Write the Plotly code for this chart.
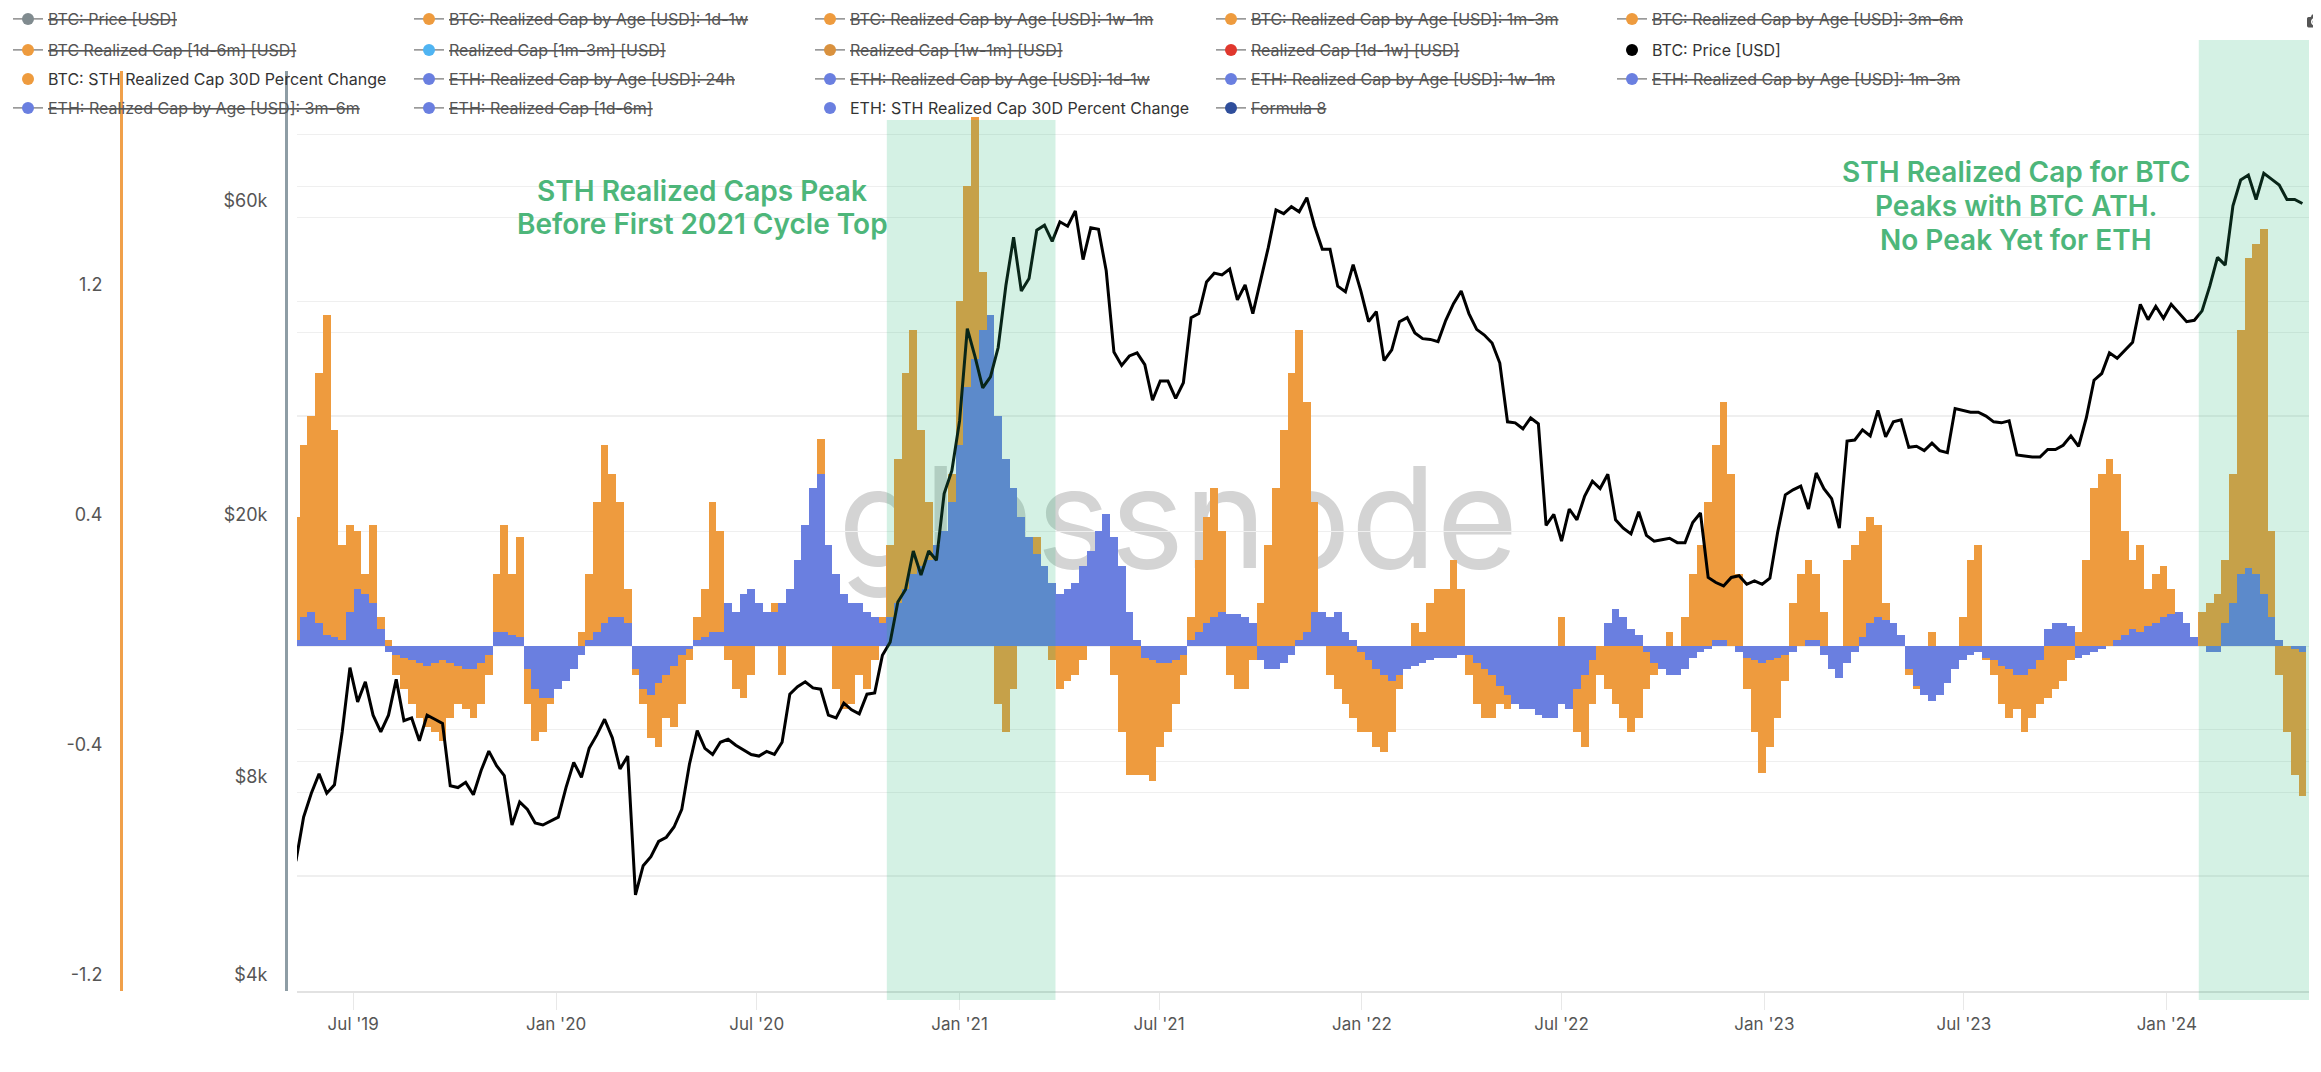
import math
import pandas as pd
import plotly.graph_objects as go

# weekly samples, first sample on 2019-05-10
first_week = "2019-05-10"

# BTC: Price [USD]
btc_price = [
    6300, 7350, 7990, 8550, 7990, 8230, 9900, 12400, 11000, 11800,
    10500, 9900, 10500, 11900, 10300, 10400, 9600, 10500, 10350, 10200,
    8200, 8150, 8300, 7950, 8650, 9260, 8800, 8500, 7150, 7750,
    7550, 7200, 7150, 7250, 7350, 8150, 8900, 8450, 9350, 9800,
    10350, 9700, 8700, 9100, 5600, 6200, 6400, 6750, 6850, 7100,
    7550, 8850, 9950, 9350, 9150, 9550, 9650, 9450, 9300, 9150,
    9100, 9250, 9150, 9550, 11300, 11600, 11800, 11550, 11500, 10500,
    10400, 10950, 10700, 10550, 11300, 11350, 12950, 13550, 15600, 16300,
    18650, 17150, 18650, 18050, 22800, 24700, 29400, 40600, 36800, 33000,
    34300, 38000, 47200, 55900, 46300, 48400, 57300, 58300, 55100, 59000,
    58100, 61300, 51700, 57800, 57500, 49700, 37400, 35700, 36900, 37300,
    35800, 31600, 33800, 33800, 31800, 33600, 42200, 42800, 47800, 49300,
    49000, 50000, 44900, 47300, 42800, 48200, 53900, 61500, 60700, 62200,
    61100, 64200, 58100, 53600, 53600, 47100, 46200, 50800, 46300, 41600,
    43100, 36300, 37700, 41600, 42200, 40000, 39200, 39100, 38800, 41800,
    44300, 46300, 42800, 40500, 39700, 38600, 36000, 29300, 29200, 28600,
    29700, 29100, 20400, 21200, 19300, 21600, 20800, 22600, 23800, 23200,
    24400, 20800, 20200, 19800, 21400, 19700, 19300, 19400, 19500, 19200,
    19200, 20600, 21300, 17000, 16700, 16500, 17000, 17100, 16600, 16800,
    16600, 16950, 19900, 22700, 23100, 23400, 21600, 24500, 23200, 22400,
    20200, 27400, 27500, 28500, 27900, 30500, 27800, 29300, 29500, 26800,
    26900, 26500, 27200, 26500, 26300, 30700, 30500, 30300, 30300, 29900,
    29300, 29200, 29400, 26100, 26000, 25900, 25900, 26600, 26600, 27000,
    27900, 26900, 29700, 33900, 34700, 37300, 36600, 37700, 38700, 44200,
    41900, 43900, 42100, 44200, 42800, 41600, 41800, 43200, 47100, 52100,
    50700, 62400, 68300, 69500, 63800, 69900, 68500, 67100, 63800, 63800,
    62900,
]

# BTC: STH Realized Cap 30D Percent Change
btc_sth_change = [
    0.45, 0.7, 0.8, 0.95, 1.15, 0.75, 0.35, 0.42, 0.4, 0.25,
    0.42, 0.1, 0.02, -0.1, -0.15, -0.2, -0.25, -0.28, -0.3, -0.33,
    -0.25, -0.2, -0.22, -0.25, -0.2, -0.1, 0.25, 0.42, 0.25, 0.38,
    -0.2, -0.33, -0.3, -0.2, -0.15, -0.12, -0.06, 0.05, 0.25, 0.5,
    0.7, 0.6, 0.5, 0.2, -0.1, -0.2, -0.32, -0.35, -0.25, -0.28,
    -0.2, -0.05, 0.1, 0.2, 0.5, 0.4, -0.05, -0.15, -0.18, -0.1,
    0.05, 0.1, 0.15, -0.1, 0.1, 0.2, 0.35, 0.55, 0.72, 0.2,
    -0.15, -0.22, -0.2, -0.1, -0.15, -0.05, 0.1, 0.35, 0.65, 0.95,
    1.1, 0.75, 0.5, 0.35, 0.4, 0.6, 1.2, 1.6, 1.84, 1.3,
    0.9, -0.2, -0.3, -0.15, 0.2, 0.3, 0.38, 0.25, -0.05, -0.15,
    -0.12, -0.1, -0.05, 0.05, 0.1, 0.1, -0.1, -0.3, -0.45, -0.45,
    -0.45, -0.47, -0.35, -0.3, -0.2, -0.1, 0.1, 0.3, 0.45, 0.55,
    0.4, -0.1, -0.15, -0.15, -0.05, 0.15, 0.35, 0.55, 0.75, 0.95,
    1.1, 0.85, 0.5, 0.05, -0.1, -0.15, -0.2, -0.25, -0.3, -0.3,
    -0.35, -0.37, -0.3, -0.15, -0.05, 0.08, 0.05, 0.15, 0.2, 0.2,
    0.3, 0.2, -0.1, -0.2, -0.25, -0.25, -0.2, -0.22, -0.2, -0.22,
    -0.2, -0.2, -0.2, -0.1, 0.1, -0.15, -0.3, -0.35, -0.2, -0.1,
    -0.15, -0.2, -0.25, -0.3, -0.25, -0.15, -0.1, -0.08, 0.05, -0.05,
    0.1, 0.25, 0.35, 0.5, 0.7, 0.85, 0.6, 0.25, -0.15, -0.3,
    -0.44, -0.35, -0.25, -0.12, 0.15, 0.25, 0.3, 0.25, 0.12, -0.03,
    -0.05, 0.3, 0.35, 0.4, 0.45, 0.42, 0.15, 0.05, 0.02, -0.1,
    -0.15, -0.12, 0.05, -0.05, -0.05, -0.03, 0.1, 0.3, 0.35, -0.05,
    -0.1, -0.2, -0.25, -0.22, -0.3, -0.25, -0.2, -0.18, -0.15, -0.12,
    -0.05, 0.05, 0.3, 0.55, 0.6, 0.65, 0.6, 0.4, 0.3, 0.35,
    0.2, 0.25, 0.28, 0.2, 0.12, 0.05, 0.0, 0.12, 0.15, 0.18,
    0.3, 0.6, 1.1, 1.35, 1.4, 1.45, 0.4, -0.1, -0.3, -0.45,
    -0.52,
]

# ETH: STH Realized Cap 30D Percent Change
eth_sth_change = [
    0.02, 0.1, 0.12, 0.08, 0.04, 0.03, 0.02, 0.12, 0.2, 0.18,
    0.15, 0.06, -0.02, -0.03, -0.04, -0.05, -0.06, -0.07, -0.06, -0.05,
    -0.06, -0.07, -0.08, -0.08, -0.06, -0.03, 0.05, 0.05, 0.04, 0.03,
    -0.08, -0.15, -0.18, -0.18, -0.15, -0.12, -0.08, -0.03, 0.02, 0.05,
    0.08, 0.1, 0.1, 0.08, -0.08, -0.15, -0.17, -0.13, -0.1, -0.07,
    -0.03, -0.01, 0.02, 0.03, 0.05, 0.05, 0.15, 0.12, 0.18, 0.2,
    0.15, 0.12, 0.12, 0.15, 0.2, 0.3, 0.42, 0.55, 0.6, 0.35,
    0.25, 0.18, 0.15, 0.15, 0.12, 0.1, 0.08, 0.1, 0.15, 0.2,
    0.25, 0.28, 0.3, 0.35, 0.4, 0.5, 0.7, 0.9, 1.0, 1.1,
    1.15, 0.8, 0.65, 0.55, 0.45, 0.38, 0.32, 0.28, 0.22, 0.18,
    0.2, 0.22, 0.28, 0.33, 0.4, 0.46, 0.38, 0.28, 0.12, 0.02,
    -0.04, -0.05, -0.06, -0.06, -0.05, -0.03, 0.02, 0.05, 0.08, 0.1,
    0.12, 0.11, 0.11, 0.1, 0.08, -0.05, -0.08, -0.08, -0.06, -0.03,
    0.02, 0.05, 0.12, 0.12, 0.1, 0.12, 0.05, 0.02, -0.02, -0.05,
    -0.08, -0.1, -0.12, -0.1, -0.08, -0.07, -0.06, -0.05, -0.04, -0.04,
    -0.04, -0.03, -0.03, -0.06, -0.08, -0.1, -0.14, -0.17, -0.2, -0.22,
    -0.22, -0.24, -0.25, -0.25, -0.2, -0.22, -0.15, -0.1, -0.05, 0.0,
    0.08, 0.13, 0.1, 0.06, 0.04, -0.02, -0.06, -0.08, -0.1, -0.1,
    -0.08, -0.04, -0.02, -0.01, 0.02, 0.02, 0.0, -0.02, -0.04, -0.05,
    -0.06, -0.05, -0.04, -0.03, -0.02, 0.0, 0.02, 0.02, -0.03, -0.08,
    -0.11, -0.06, -0.02, 0.03, 0.08, 0.1, 0.09, 0.08, 0.04, -0.08,
    -0.14, -0.17, -0.19, -0.17, -0.13, -0.08, -0.05, -0.03, -0.02, -0.04,
    -0.05, -0.07, -0.08, -0.1, -0.1, -0.08, -0.05, 0.06, 0.08, 0.08,
    0.07, -0.04, -0.03, -0.02, -0.01, 0.0, 0.02, 0.04, 0.06, 0.05,
    0.07, 0.08, 0.1, 0.11, 0.12, 0.08, 0.03, 0.0, -0.02, -0.02,
    0.08, 0.15, 0.25, 0.27, 0.25, 0.18, 0.1, 0.02, 0.0, -0.01,
    -0.02,
]

# axis ticks
pct_ticks = [-1.2, -0.8, -0.4, 0.0, 0.4, 0.8, 1.2, 1.6, 2.0]
pct_labels = ["-1.2", "", "-0.4", "", "0.4", "", "1.2", "", ""]
price_ticks = [4000, 6000, 8000, 10000, 20000, 30000, 40000, 60000, 80000, 100000]
price_labels = ["$4k", "", "$8k", "", "$20k", "", "", "$60k", "", ""]

# highlighted periods
highlight_periods = [("2020-10-27", "2021-03-29"), ("2024-01-30", "2024-05-09")]

note_left = ["STH Realized Caps Peak", "Before First 2021 Cycle Top"]
note_right = ["STH Realized Cap for BTC", "Peaks with BTC ATH.", "No Peak Yet for ETH"]

ORANGE = "#EE9B3E"
BLUE = "#6A7FE0"
GREEN_TXT = "#4DB67A"

# legend rows: (name, dot colour, hidden)
legend_rows = [
    [("BTC: Price [USD]", "#808b8f", True),
     ("BTC: Realized Cap by Age [USD]: 1d-1w", ORANGE, True),
     ("BTC: Realized Cap by Age [USD]: 1w-1m", ORANGE, True),
     ("BTC: Realized Cap by Age [USD]: 1m-3m", ORANGE, True),
     ("BTC: Realized Cap by Age [USD]: 3m-6m", ORANGE, True)],
    [("BTC Realized Cap [1d-6m] [USD]", ORANGE, True),
     ("Realized Cap [1m-3m] [USD]", "#4FB4F2", True),
     ("Realized Cap [1w-1m] [USD]", "#D9913E", True),
     ("Realized Cap [1d-1w] [USD]", "#E0372D", True),
     ("BTC: Price [USD]", "#000000", False)],
    [("BTC: STH Realized Cap 30D Percent Change", ORANGE, False),
     ("ETH: Realized Cap by Age [USD]: 24h", BLUE, True),
     ("ETH: Realized Cap by Age [USD]: 1d-1w", BLUE, True),
     ("ETH: Realized Cap by Age [USD]: 1w-1m", BLUE, True),
     ("ETH: Realized Cap by Age [USD]: 1m-3m", BLUE, True)],
    [("ETH: Realized Cap by Age [USD]: 3m-6m", BLUE, True),
     ("ETH: Realized Cap [1d-6m]", BLUE, True),
     ("ETH: STH Realized Cap 30D Percent Change", BLUE, False),
     ("Formula 8", "#2F4E9B", True)],
]

dates = pd.date_range(first_week, periods=len(btc_price), freq="7D")
week_ms = 7 * 24 * 3600 * 1000

W, H = 2321, 1072
ML, MR, MT, MB = 0, 20, 63, 89
PW, PH = W - ML - MR, H - MT - MB


def px_x(p):
    return (p - ML) / PW


def px_y(p):
    return (H - MB - p) / PH


fig = go.Figure()

fig.add_trace(go.Bar(x=dates, y=btc_sth_change, width=week_ms,
                     marker=dict(color=ORANGE, line=dict(width=0)),
                     showlegend=False, yaxis="y"))
fig.add_trace(go.Bar(x=dates, y=eth_sth_change, width=week_ms,
                     marker=dict(color=BLUE, line=dict(width=0)),
                     showlegend=False, yaxis="y"))
fig.add_trace(go.Scatter(x=dates, y=btc_price, mode="lines",
                         line=dict(color="#000000", width=3),
                         showlegend=False, yaxis="y2"))

# legend entries (dots), one legend per row
row_y = [11, 42, 71, 100]
for i, row in enumerate(legend_rows):
    key = "legend" if i == 0 else "legend%d" % (i + 1)
    for name, col, hidden in row:
        if hidden:
            label = "<s>%s</s>" % name
        else:
            label = '<span style="color:#333333">%s</span>' % name
        fig.add_trace(go.Scatter(
            x=[None], y=[None], name=label, legend=key,
            mode="lines+markers" if hidden else "markers",
            marker=dict(color=col, size=12),
            line=dict(color="#6f6f6f", width=1.2),
        ))
    fig.update_layout({key: dict(
        orientation="h", x=px_x(0), xanchor="left",
        y=px_y(row_y[i]), yanchor="middle",
        entrywidth=356, entrywidthmode="pixels", itemwidth=30,
        bgcolor="rgba(0,0,0,0)", traceorder="normal",
        font=dict(family="Inter", size=16, color="#555555"),
    )})

shapes = []
tops = [112, 32]
for (a, b), top in zip(highlight_periods, tops):
    shapes.append(dict(type="rect", xref="x", yref="paper", x0=a, x1=b,
                       y0=px_y(992), y1=px_y(top), layer="above",
                       fillcolor="rgba(38,185,120,0.2)", line=dict(width=0)))
# watermark, kept beneath the bars
shapes.append(dict(type="rect", xref="paper", yref="paper",
                   x0=px_x(800), x1=px_x(1540), y0=px_y(590), y1=px_y(420),
                   layer="below", line=dict(width=0),
                   fillcolor="rgba(0,0,0,0)",
                   label=dict(text="glassnode", textposition="middle center",
                              font=dict(family="Inter", size=140, color="#d4d4d4"))))

annotations = []
for txt, yp in zip(note_left, [183, 216]):
    annotations.append(dict(text=txt, xref="paper", yref="paper", x=px_x(694), y=px_y(yp),
                            xanchor="center", yanchor="middle", showarrow=False,
                            font=dict(family="Inter", size=28, color=GREEN_TXT, weight=600)))
for txt, yp in zip(note_right, [164, 198, 232]):
    annotations.append(dict(text=txt, xref="paper", yref="paper", x=px_x(2008), y=px_y(yp),
                            xanchor="center", yanchor="middle", showarrow=False,
                            font=dict(family="Inter", size=28, color=GREEN_TXT, weight=600)))

fig.update_layout(
    width=W, height=H,
    margin=dict(l=ML, r=MR, t=MT, b=MB, autoexpand=False),
    paper_bgcolor="white", plot_bgcolor="white",
    font=dict(family="Inter", color="#555555"),
    barmode="overlay", bargap=0,
    hovermode=False,
    shapes=shapes, annotations=annotations,
    xaxis=dict(
        domain=[px_x(289), 1], type="date",
        range=["2019-05-11", "2024-05-09"],
        tick0="2019-01-01", dtick="M6", tickformat="%b '%y",
        ticks="outside", ticklen=17, tickwidth=1, tickcolor="#e8e8e8",
        showgrid=False, zeroline=False,
        showline=True, linecolor="#e2e2e2", linewidth=2,
        tickfont=dict(size=17, color="#555555"), ticklabelstandoff=0,
        automargin=False,
    ),
    yaxis=dict(
        anchor="free", position=px_x(113), side="left",
        range=[-1.2, 2.0], tickvals=pct_ticks, ticktext=pct_labels,
        showgrid=True, gridcolor="#efefef", gridwidth=1, zeroline=False,
        showline=True, linecolor="#F0A04A", linewidth=3, ticks="",
        tickfont=dict(size=18, color="#555555"),
        ticklabelstandoff=14, ticklabelshift=-16, automargin=False,
    ),
    yaxis2=dict(
        overlaying="y", anchor="free", position=px_x(278), side="left",
        type="log", range=[math.log10(4000), 5],
        tickvals=price_ticks, ticktext=price_labels,
        showgrid=True, gridcolor="#efefef", gridwidth=1, zeroline=False,
        showline=True, linecolor="#8E9DA5", linewidth=3, ticks="",
        tickfont=dict(size=18, color="#555555"),
        ticklabelstandoff=14, ticklabelshift=-16, automargin=False,
    ),
    modebar=dict(bgcolor="rgba(0,0,0,0)", color="#555555", activecolor="#333333"),
)

fig.write_html("out.html", config={"displayModeBar": True, "displaylogo": False,
                                   "modeBarButtons": [["toImage"]]})
